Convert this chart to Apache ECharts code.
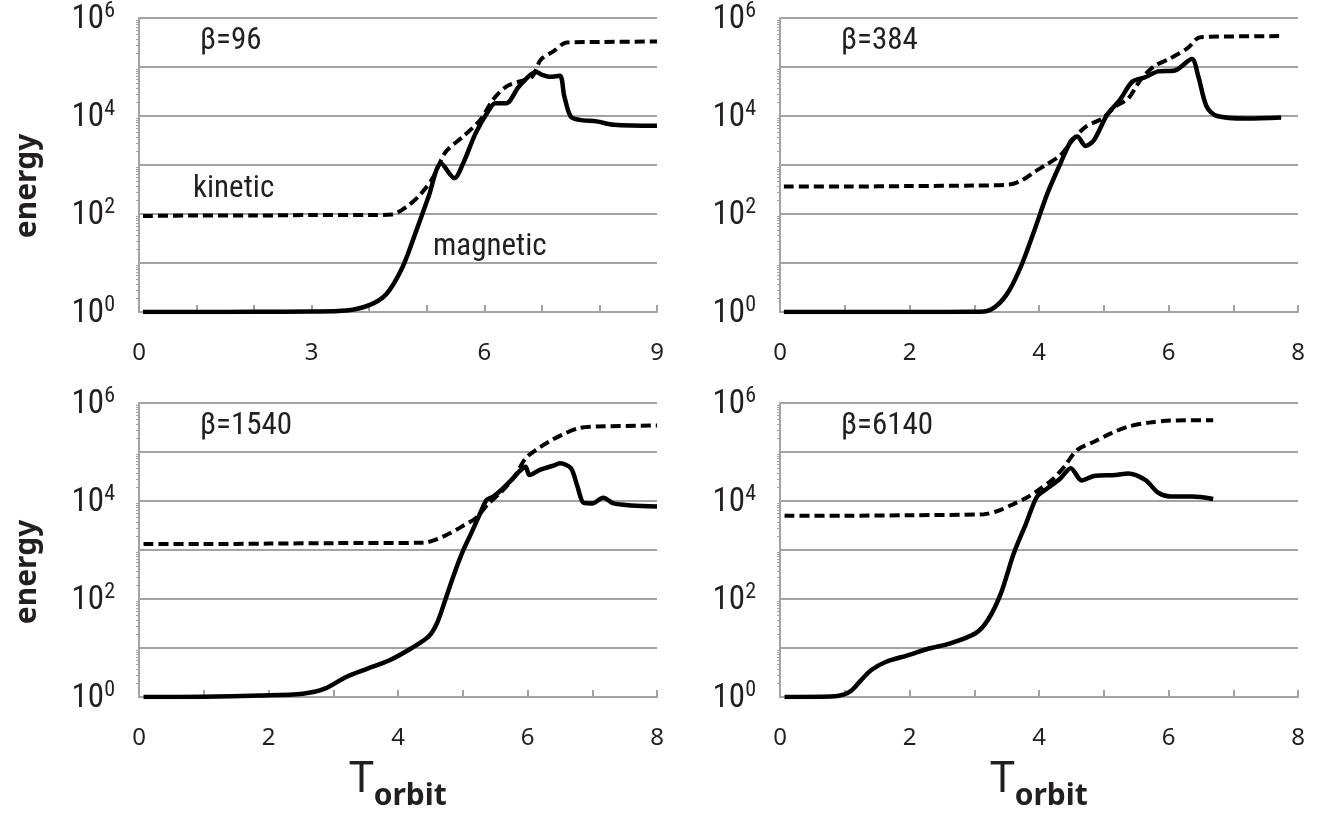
<!DOCTYPE html>
<html>
<head>
<meta charset="utf-8">
<script src="https://cdn.jsdelivr.net/npm/echarts@6/dist/echarts.min.js"></script>
<style>
  html, body { margin: 0; padding: 0; background: #fff; }
  #chart { width: 1328px; height: 815px; }
</style>
</head>
<body>
<div id="chart"></div>
<script>
// Energy growth (magnetic vs kinetic) for four plasma beta values, time in orbits.
const betaLabels = ['β=96', 'β=384', 'β=1540', 'β=6140'];
const xMax = [9, 8, 8, 8];
const xLabelStep = [3, 2, 2, 2];

// beta = 96
const magT96 = [0.07, 1.0, 2.0, 3.0, 3.6, 4.0, 4.3, 4.58, 4.8, 5.03, 5.25, 5.48, 5.63, 5.85, 6.08, 6.19, 6.38, 6.6, 6.9, 7.0, 7.13, 7.31, 7.39, 7.5, 7.65, 7.95, 8.25, 9.0];
const mag96  = [1, 1, 1.01, 1.02, 1.07, 1.38, 2.34, 8.3, 39.8, 224, 1070, 537, 1070, 4470, 13200, 18200, 18200, 39800, 79400, 69200, 63100, 66100, 25100, 9770, 8320, 7760, 6610, 6310];
const kinT96 = [0.07, 1.0, 2.0, 3.0, 4.0, 4.4, 4.65, 4.88, 5.1, 5.33, 5.63, 5.93, 6.15, 6.38, 6.6, 6.83, 6.98, 7.2, 7.43, 8.0, 9.0];
const kin96  = [91, 93, 93, 95, 95, 98, 141, 245, 537, 1860, 3800, 8320, 21400, 39800, 50100, 63100, 141000, 209000, 316000, 324000, 331000];

// beta = 384
const magT384 = [0.06, 1.0, 2.0, 3.0, 3.15, 3.34, 3.54, 3.74, 3.93, 4.13, 4.33, 4.49, 4.59, 4.72, 4.85, 5.05, 5.25, 5.44, 5.64, 5.84, 6.1, 6.36, 6.46, 6.59, 6.75, 7.21, 7.74];
const mag384  = [1, 1, 1, 1.01, 1.02, 1.32, 2.75, 9.77, 46.8, 263, 1070, 3020, 3800, 2450, 3240, 10500, 21400, 50100, 61700, 81300, 85100, 145000, 64600, 15500, 10000, 8910, 9330];
const kinT384 = [0.06, 1.0, 2.0, 3.0, 3.54, 3.74, 3.93, 4.13, 4.33, 4.52, 4.72, 4.98, 5.18, 5.38, 5.57, 5.77, 6.03, 6.3, 6.49, 7.74];
const kin384  = [363, 363, 372, 380, 398, 490, 724, 1050, 1580, 3240, 6030, 8910, 15500, 22900, 55000, 102000, 151000, 245000, 407000, 427000];

// beta = 1540
const magT1540 = [0.07, 1.0, 1.87, 2.53, 2.87, 3.2, 3.53, 3.87, 4.2, 4.47, 4.6, 4.73, 4.87, 5.0, 5.13, 5.27, 5.37, 5.47, 5.6, 5.73, 5.87, 5.97, 6.03, 6.2, 6.4, 6.5, 6.67, 6.77, 6.87, 7.0, 7.17, 7.33, 7.6, 8.0];
const mag1540  = [1, 1.01, 1.07, 1.17, 1.48, 2.57, 3.8, 5.62, 9.77, 17, 31.6, 95.5, 331, 933, 2190, 5620, 10500, 12300, 17000, 25100, 39800, 50100, 33900, 43700, 52500, 58900, 46800, 20000, 9120, 8910, 11700, 8910, 8130, 7760];
const kinT1540 = [0.07, 1.0, 2.0, 3.0, 4.4, 4.6, 4.8, 5.0, 5.2, 5.4, 5.6, 5.8, 5.97, 6.13, 6.33, 6.53, 6.8, 7.07, 8.0];
const kin1540  = [1320, 1320, 1350, 1380, 1410, 1660, 2190, 3090, 4470, 8910, 15500, 31600, 74100, 110000, 162000, 224000, 309000, 331000, 347000];

// beta = 6140
const magT6140 = [0.07, 0.79, 0.98, 1.11, 1.25, 1.41, 1.64, 1.97, 2.3, 2.62, 3.02, 3.21, 3.41, 3.61, 3.8, 3.97, 4.13, 4.33, 4.49, 4.66, 4.85, 5.18, 5.38, 5.64, 5.84, 6.03, 6.36, 6.69];
const mag6140  = [1, 1.02, 1.12, 1.38, 2.19, 3.55, 5.25, 7.08, 9.77, 12.3, 20, 37.2, 129, 851, 3470, 12300, 18200, 28800, 46800, 26300, 32400, 33900, 36300, 26900, 14800, 12300, 12300, 11000];
const kinT6140 = [0.07, 1.0, 2.0, 3.15, 3.41, 3.61, 3.8, 4.0, 4.2, 4.39, 4.59, 4.85, 5.11, 5.38, 5.7, 6.03, 6.69];
const kin6140  = [5010, 5010, 5130, 5370, 6610, 8710, 11500, 17000, 26900, 50100, 110000, 162000, 240000, 331000, 398000, 437000, 447000];

const magnetic = [[magT96, mag96], [magT384, mag384], [magT1540, mag1540], [magT6140, mag6140]];
const kinetic  = [[kinT96, kin96], [kinT384, kin384], [kinT1540, kin1540], [kinT6140, kin6140]];

const zip = (xs, ys) => xs.map((x, i) => [x, ys[i]]);

const GRID_COLOR = '#a3a3a3';
const TEXT_COLOR = '#231f20';
const NARROW = '"Roboto Condensed", "DejaVu Sans Condensed", sans-serif';
const PLAIN = '"Noto Sans", "Open Sans", sans-serif';

const panels = [
  { left: 139, top: 18 },
  { left: 780, top: 18 },
  { left: 139, top: 403 },
  { left: 780, top: 403 }
];
const PW = 518, PH = 294;

const grids = panels.map(p => ({ left: p.left, top: p.top, width: PW, height: PH }));

const xAxes = panels.map((p, i) => ({
  type: 'value',
  gridIndex: i,
  min: 0,
  max: xMax[i],
  interval: 1,
  axisLine: { show: true, lineStyle: { color: GRID_COLOR, width: 2 } },
  axisTick: { show: true, inside: true, length: 7, lineStyle: { color: GRID_COLOR, width: 2 } },
  splitLine: { show: false },
  axisLabel: {
    margin: 29,
    color: TEXT_COLOR,
    fontFamily: PLAIN,
    fontSize: 24,
    formatter: v => (v % xLabelStep[i] === 0 ? String(v) : '')
  },
  name: i >= 2 ? '{t|T}{s|orbit}' : '',
  nameLocation: 'middle',
  nameGap: 58,
  nameTextStyle: {
    rich: {
      t: { fontFamily: PLAIN, fontSize: 44, color: TEXT_COLOR, lineHeight: 46, verticalAlign: 'bottom' },
      s: { fontFamily: PLAIN, fontSize: 30, fontWeight: 'bold', color: TEXT_COLOR, lineHeight: 30, verticalAlign: 'bottom', padding: [0, 0, -10, 0] }
    }
  }
}));

const yAxes = panels.map((p, i) => ({
  type: 'log',
  logBase: 10,
  gridIndex: i,
  min: 1,
  max: 1e6,
  interval: 1,
  axisLine: { show: true, lineStyle: { color: GRID_COLOR, width: 2 } },
  axisTick: { show: false },
  minorTick: { show: true, splitNumber: 10, length: 3, lineStyle: { color: GRID_COLOR, width: 1 } },
  splitLine: { show: true, lineStyle: { color: GRID_COLOR, width: 2 } },
  axisLabel: {
    margin: 24,
    formatter: v => {
      const e = Math.round(Math.log10(v));
      return e % 2 === 0 ? '{b|10}{s|' + e + '}' : '';
    },
    rich: {
      b: { fontFamily: NARROW, fontSize: 33, color: TEXT_COLOR, lineHeight: 36, verticalAlign: 'bottom' },
      s: { fontFamily: NARROW, fontSize: 22, color: TEXT_COLOR, lineHeight: 22, verticalAlign: 'top' }
    }
  }
}));

const series = [];
panels.forEach((p, i) => {
  series.push({
    name: 'kinetic',
    type: 'line',
    xAxisIndex: i,
    yAxisIndex: i,
    data: zip(kinetic[i][0], kinetic[i][1]),
    showSymbol: false,
    smooth: 0.3,
    lineStyle: { color: '#000', width: 4, type: [10, 5] },
    z: 3
  });
  series.push({
    name: 'magnetic',
    type: 'line',
    xAxisIndex: i,
    yAxisIndex: i,
    data: zip(magnetic[i][0], magnetic[i][1]),
    showSymbol: false,
    smooth: 0.3,
    lineStyle: { color: '#000', width: 4.5, type: 'solid', join: 'round' },
    z: 4
  });
});

const labelStyle = { fontFamily: NARROW, fontSize: 31, fontWeight: 'normal', color: TEXT_COLOR };
const titles = panels.map((p, i) => ({
  text: betaLabels[i],
  left: p.left + 56,
  top: p.top + 3,
  textStyle: labelStyle
}));
titles.push(
  { text: 'kinetic', left: 188, top: 169, textStyle: labelStyle },
  { text: 'magnetic', left: 428, top: 227, textStyle: labelStyle }
);

// vertical "energy" titles beside the left-hand panels
const energyTitles = [186, 572].map(cy => ({
  type: 'text',
  x: 27,
  y: cy,
  rotation: Math.PI / 2,
  style: {
    text: 'energy',
    fontFamily: PLAIN,
    fontSize: 30,
    fontWeight: 'bold',
    fill: TEXT_COLOR,
    align: 'center',
    verticalAlign: 'middle'
  }
}));

const chart = echarts.init(document.getElementById('chart'), null, { renderer: 'canvas' });
chart.setOption({
  animation: false,
  backgroundColor: '#fff',
  title: titles,
  grid: grids,
  xAxis: xAxes,
  yAxis: yAxes,
  graphic: energyTitles,
  series: series
});
</script>
</body>
</html>
